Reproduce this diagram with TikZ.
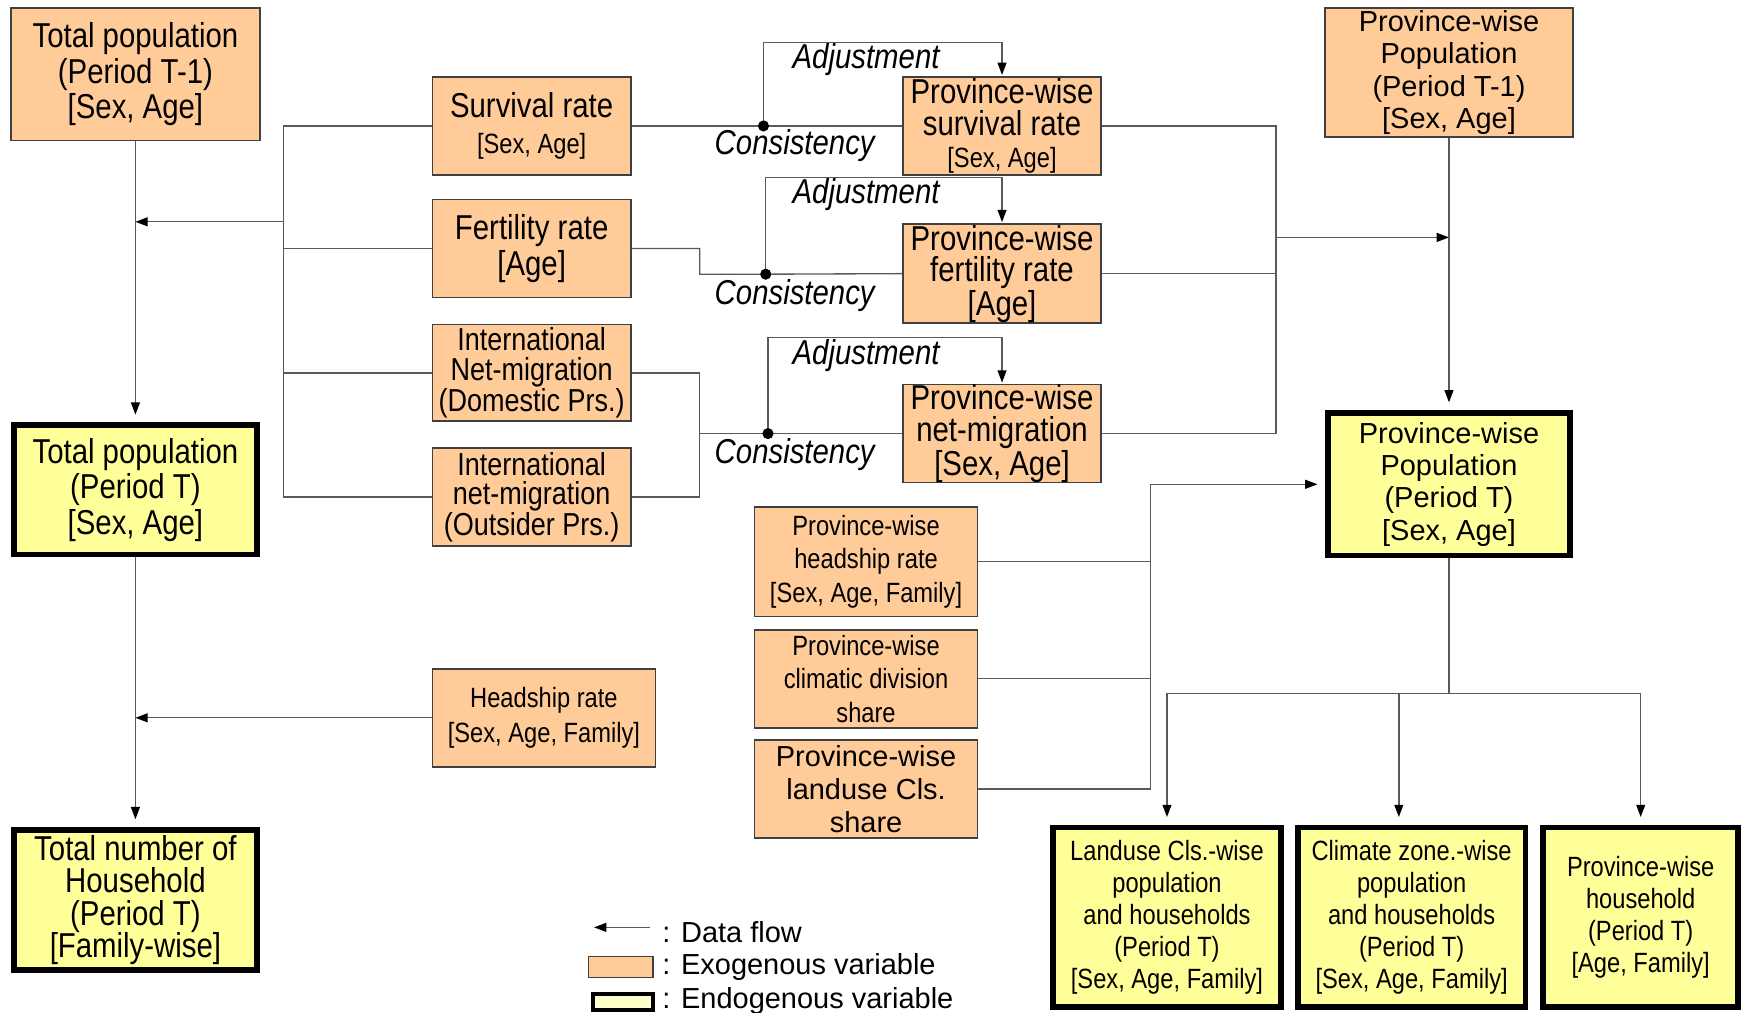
\documentclass[tikz,border=0pt]{standalone}
\usepackage{fontspec}
\setmainfont{Liberation Sans}
\newfontfamily\nar[FakeStretch=0.85]{Liberation Sans}
\usetikzlibrary{arrows.meta}
\definecolor{exo}{HTML}{FFCC99}
\definecolor{endo}{HTML}{FFFF99}
\definecolor{endol}{HTML}{FFFFCC}
\definecolor{bord}{HTML}{404040}
\definecolor{ln}{HTML}{5A5A5A}
\newcommand\fNL{\nar\fontsize{31}{32}\selectfont}
\newcommand\fNS{\nar\fontsize{25}{30}\selectfont}
\newcommand\fRL{\fontsize{26}{29}\selectfont}
\tikzset{
  exobox/.style={draw=bord, line width=1.5pt, fill=exo, inner sep=0pt, align=center},
  endobox/.style={draw=black, line width=5pt, fill=endo, inner sep=0pt, align=center},
  conn/.style={draw=ln, line width=1.2pt},
  flow/.style={draw=ln, line width=1.2pt, -{Triangle[length=11pt,width=8pt,color=black]}},
  lbl/.style={font={\nar\itshape\fontsize{31}{32}\selectfont}, inner sep=0pt}
}
\begin{document}
\begin{tikzpicture}[x=1pt,y=-1pt]
\fill[white] (0,0) rectangle (1562,908);
\useasboundingbox (0,0) rectangle (1562,908);

% left column
\node[exobox, minimum width=223pt, minimum height=119pt, font=\fNL] (tp1) at (121.5,66.5) {Total population\\(Period T-1)\\{[Sex, Age]}};
\node[endobox, minimum width=218pt, minimum height=116pt, font=\fNL] (tpt) at (121.5,439.5) {Total population\\(Period T)\\{[Sex, Age]}};
\node[endobox, minimum width=218pt, minimum height=126pt, font={\nar\fontsize{31}{29}\selectfont}] (tnh) at (121.5,807.5) {Total number of\\Household\\(Period T)\\{[Family-wise]}};

% middle column
\node[exobox, minimum width=178pt, minimum height=88pt, font=\fNL] (surv) at (477,113) {Survival rate\\{\fNS[Sex, Age]}};
\node[exobox, minimum width=178pt, minimum height=88pt, font=\fNL] (fert) at (477,223) {Fertility rate\\{[Age]}};
\node[exobox, minimum width=178pt, minimum height=87pt, font={\nar\fontsize{28.5}{26.5}\selectfont}] (idom) at (477,334.5) {International\\Net-migration\\(Domestic Prs.)};
\node[exobox, minimum width=178pt, minimum height=88pt, font={\nar\fontsize{28.5}{26.5}\selectfont}] (iout) at (477,446) {International\\net-migration\\(Outsider Prs.)};
\node[exobox, minimum width=200pt, minimum height=88pt, font={\nar\fontsize{25}{31}\selectfont}] (head) at (488,644) {Headship rate\\{[Sex, Age, Family]}};

% province-wise rates
\node[exobox, minimum width=178pt, minimum height=88pt, font={\nar\fontsize{31}{28.5}\selectfont}] (pws) at (899,113) {Province-wise\\survival rate\\{\fNS[Sex, Age]}};
\node[exobox, minimum width=178pt, minimum height=89pt, font={\nar\fontsize{31}{28.5}\selectfont}] (pwf) at (899,245.5) {Province-wise\\fertility rate\\{[Age]}};
\node[exobox, minimum width=178pt, minimum height=88pt, font={\nar\fontsize{31}{28.5}\selectfont}] (pwm) at (899,389) {Province-wise\\net-migration\\{[Sex, Age]}};

% right column
\node[exobox, minimum width=222pt, minimum height=116pt, font=\fRL] (pwp1) at (1300,65) {Province-wise\\Population\\(Period T-1)\\{[Sex, Age]}};
\node[endobox, minimum width=217pt, minimum height=128pt, font=\fRL] (pwpt) at (1300,434.5) {Province-wise\\Population\\(Period T)\\{[Sex, Age]}};

% shares
\node[exobox, minimum width=200pt, minimum height=98pt, font=\fNS] (pwh) at (777,504) {Province-wise\\headship rate\\{[Sex, Age, Family]}};
\node[exobox, minimum width=200pt, minimum height=88pt, font=\fNS] (pwc) at (777,609) {Province-wise\\climatic division\\share};
\node[exobox, minimum width=200pt, minimum height=88pt, font={\fontsize{26}{30}\selectfont}] (pwl) at (777,708) {Province-wise\\landuse Cls.\\share};

% bottom outputs
\node[endobox, minimum width=205pt, minimum height=161pt, font={\nar\fontsize{25}{28.8}\selectfont}] (blu) at (1047,823) {Landuse Cls.-wise\\population\\and households\\(Period T)\\{[Sex, Age, Family]}};
\node[endobox, minimum width=204pt, minimum height=161pt, font={\nar\fontsize{25}{28.8}\selectfont}] (bcz) at (1266.5,823) {Climate zone.-wise\\population\\and households\\(Period T)\\{[Sex, Age, Family]}};
\node[endobox, minimum width=175pt, minimum height=161pt, font={\nar\fontsize{25}{28.5}\selectfont}] (bph) at (1472,823) {Province-wise\\household\\(Period T)\\{[Age, Family]}};

% left flow
\draw[flow, shorten >=7pt] (tp1.south) -- (tpt.north);
\draw[flow, shorten >=7pt] (tpt.south) -- (tnh.north);
\draw[conn] (surv.west) -- ++(-133,0) coordinate (b1) -- (b1 |- iout.west) -- (iout.west);
\draw[conn] (fert.west) -- (fert.west -| b1);
\draw[conn] (idom.west) -- (idom.west -| b1);
\coordinate (jL) at (255,199);
\draw[flow] (jL) -- (jL -| tp1.south);
\draw[flow] (head.west) -- (head.west -| tp1.south);

% consistency / adjustment loops
\coordinate (cs1) at (685,113);
\draw[conn] (surv.east) -- (cs1) -- (pws.west);
\draw[flow, shorten >=1pt] (cs1) -- ++(0,-75) -| (pws.north);
\fill (cs1) circle (5pt);

\coordinate (cs2) at (687,246);
\draw[conn] (fert.east) -- ++(61,0) |- (cs2) -- (pwf.west);
\draw[flow, shorten >=1pt] (cs2) -- ++(0,-87) -| (pwf.north);
\fill (cs2) circle (5pt);

\coordinate (cs3) at (689,389);
\draw[conn] (idom.east) -- ++(61,0) coordinate (m1) -- (m1 |- iout.east) -- (iout.east);
\draw[conn] (m1 |- cs3) -- (cs3) -- (pwm.west);
\draw[flow, shorten >=1pt] (cs3) -- ++(0,-86) -| (pwm.north);
\fill (cs3) circle (5pt);

\node[lbl] (adj1) at (777,53) {Adjustment};
\node[lbl] (con1) at (713,131) {Consistency};
\node[lbl] (adj2) at (777,175) {Adjustment};
\node[lbl] (con2) at (713,265) {Consistency};
\node[lbl] (adj3) at (777,319) {Adjustment};
\node[lbl] (con3) at (713,408) {Consistency};

% right bracket
\draw[conn] (pws.east) -- ++(156,0) coordinate (r1) -- (r1 |- pwm.east) -- (pwm.east);
\draw[conn] (pwf.east) -- (pwf.east -| r1);
\coordinate (jR) at (1144,213);
\draw[flow] (jR) -- (jR -| pwp1.south);
\draw[flow, shorten >=7pt] (pwp1.south) -- (pwpt.north);

% shares bracket
\draw[conn] (pwh.east) -- ++(155,0) coordinate (l1);
\draw[conn] (pwc.east) -- (pwc.east -| l1);
\coordinate (l2) at (1032,434.5);
\draw[conn] (pwl.east) -| (l2);
\draw[flow, shorten >=7pt] (l2) -- (pwpt.west);

% distribution to outputs
\coordinate (d0) at (1300,622);
\draw[conn] (pwpt.south) -- (d0);
\draw[conn] (d0 -| blu.north) -- (d0 -| bph.north);
\coordinate (d2) at (1255,622);
\draw[flow, shorten >=7pt] (d0 -| blu.north) -- (blu.north);
\draw[flow, shorten >=7pt] (d2) -- (d2 |- bcz.north);
\draw[flow, shorten >=7pt] (d0 -| bph.north) -- (bph.north);

% legend
\coordinate (lg1) at (583,832);
\draw[flow] (lg1) -- ++(-50,0);
\node[anchor=west, font=\fRL, inner sep=0pt] (lt1) at (594,836) {: Data flow};
\node[exobox, minimum width=58pt, minimum height=19pt] (lb2) at (557,867.5) {};
\node[anchor=west, font=\fRL, inner sep=0pt] (lt2) at (594,868) {: Exogenous variable};
\node[draw=black, line width=4pt, fill=endol, inner sep=0pt, minimum width=54pt, minimum height=14pt] (lb3) at (559,899) {};
\node[anchor=west, font=\fRL, inner sep=0pt] (lt3) at (594,898) {: Endogenous variable};
\end{tikzpicture}
\end{document}
